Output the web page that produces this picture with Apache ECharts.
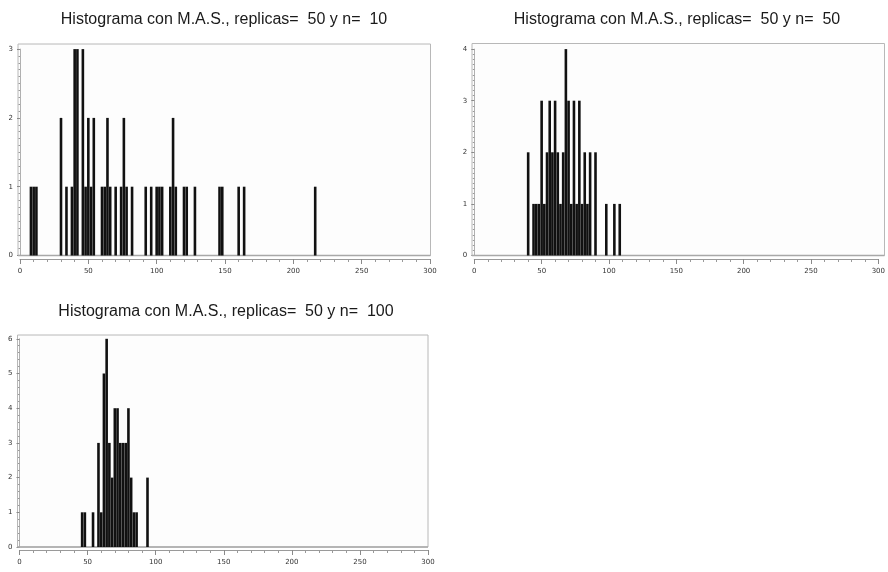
<!DOCTYPE html>
<html>
<head>
<meta charset="utf-8">
<script src="https://cdn.jsdelivr.net/npm/echarts@6/dist/echarts.min.js"></script>
<style>
  html, body { margin: 0; padding: 0; background: #ffffff; }
  #chart { width: 888px; height: 572px; }
</style>
</head>
<body>
<div id="chart"></div>
<script>
// Sample-mean histograms: bar midpoints and their frequencies for each sample size
const xTicks = [0, 50, 100, 150, 200, 250, 300];

const mids10 = [8, 10, 12, 30, 34, 38, 40, 42, 46, 48, 50, 52, 54, 60, 62, 64, 66, 70, 74, 76, 78, 82,
                92, 96, 100, 102, 104, 110, 112, 114, 120, 122, 128, 146, 148, 160, 164, 216];
const freq10 = [1, 1, 1, 2, 1, 1, 3, 3, 3, 1, 2, 1, 2, 1, 1, 2, 1, 1, 1, 2, 1, 1,
                1, 1, 1, 1, 1, 1, 2, 1, 1, 1, 1, 1, 1, 1, 1, 1];

const mids50 = [40, 44, 46, 48, 50, 52, 54, 56, 58, 60, 62, 64, 66, 68, 70, 72, 74, 76, 78, 80, 82, 84, 86,
                90, 98, 104, 108];
const freq50 = [2, 1, 1, 1, 3, 1, 2, 3, 2, 3, 2, 1, 2, 4, 3, 1, 3, 1, 3, 1, 2, 1, 2,
                2, 1, 1, 1];

const mids100 = [46, 48, 54, 58, 60, 62, 64, 66, 68, 70, 72, 74, 76, 78, 80, 82, 84, 86, 94];
const freq100 = [1, 1, 1, 3, 1, 5, 6, 3, 2, 4, 4, 3, 3, 3, 4, 2, 1, 1, 2];

const titles = [
  'Histograma con M.A.S., replicas=  50 y n=  10',
  'Histograma con M.A.S., replicas=  50 y n=  50',
  'Histograma con M.A.S., replicas=  50 y n=  100'
];
const yMax = [3, 4, 6];

// panel geometry (pixels)
const panels = [
  { left: 20,    right: 458, top: 49.1, bottom: 316.5, frame: [18, 44, 430.5, 255.5], ySplit: 10, titleX: 219, titleY: 7, xOff: 3.5 },
  { left: 474.3, right: 3.7, top: 49.1, bottom: 316.5, frame: [472, 43.5, 884.5, 255.5], ySplit: 10, titleX: 672, titleY: 7, xOff: 3.5 },
  { left: 19.5,  right: 460, top: 338.8, bottom: 25,   frame: [17.5, 335, 428, 547], ySplit: 5, titleX: 221, titleY: 299, xOff: 3 }
];
const seriesData = [[mids10, freq10], [mids50, freq50], [mids100, freq100]];

const pairs = (m, f) => m.map((x, i) => [x, f[i]]);

const option = {
  backgroundColor: '#ffffff',
  animation: false,
  title: panels.map((p, i) => ({
    text: titles[i],
    left: p.titleX,
    top: p.titleY,
    textAlign: 'center',
    textStyle: { fontFamily: 'Liberation Sans', fontSize: 16, fontWeight: 'normal', color: '#1a1a1a' }
  })),
  grid: panels.map(p => ({ left: p.left, right: p.right, top: p.top, bottom: p.bottom, containLabel: false })),
  xAxis: panels.map((p, i) => ({
    type: 'value', gridIndex: i, min: 0, max: 300, interval: 50,
    offset: p.xOff,
    axisLine: { show: true, onZero: false, lineStyle: { color: '#9a9a9a', width: 1 } },
    axisTick: { show: true, length: 5, inside: false, lineStyle: { color: '#8a8a8a' } },
    minorTick: { show: true, splitNumber: 5, length: 3, lineStyle: { color: '#9a9a9a' } },
    splitLine: { show: false },
    axisLabel: { show: true, margin: 9, fontSize: 7, fontFamily: 'DejaVu Sans', color: '#333',
                 customValues: xTicks }
  })),
  yAxis: panels.map((p, i) => ({
    type: 'value', gridIndex: i, min: 0, max: yMax[i], interval: 1,
    offset: 2,
    axisLine: { show: true, lineStyle: { color: '#b0b0b0', width: 1 } },
    axisTick: { show: true, length: 3, lineStyle: { color: '#8a8a8a' } },
    minorTick: { show: true, splitNumber: p.ySplit, length: 1.5, lineStyle: { color: '#9a9a9a' } },
    splitLine: { show: false },
    axisLabel: { show: true, margin: 5, fontSize: 7, fontFamily: 'DejaVu Sans', color: '#333' }
  })),
  graphic: panels.map(p => ({
    type: 'rect', silent: true, z: 0,
    shape: { x: p.frame[0], y: p.frame[1], width: p.frame[2] - p.frame[0], height: p.frame[3] - p.frame[1] },
    style: { fill: '#fdfdfd', stroke: '#b8b8b8', lineWidth: 1 }
  })).concat(panels.map(p => ({
    type: 'line', silent: true, z: 1,
    shape: { x1: p.frame[0], y1: p.frame[3], x2: p.frame[2], y2: p.frame[3] },
    style: { stroke: '#a8a8a8', lineWidth: 1.5 }
  }))),
  series: seriesData.map((d, i) => ({
    type: 'bar', xAxisIndex: i, yAxisIndex: i,
    data: pairs(d[0], d[1]),
    barWidth: 2.6,
    itemStyle: { color: '#111111' },
    z: 5
  }))
};

const chart = echarts.init(document.getElementById('chart'), null, { renderer: 'canvas' });
chart.setOption(option);
</script>
</body>
</html>
